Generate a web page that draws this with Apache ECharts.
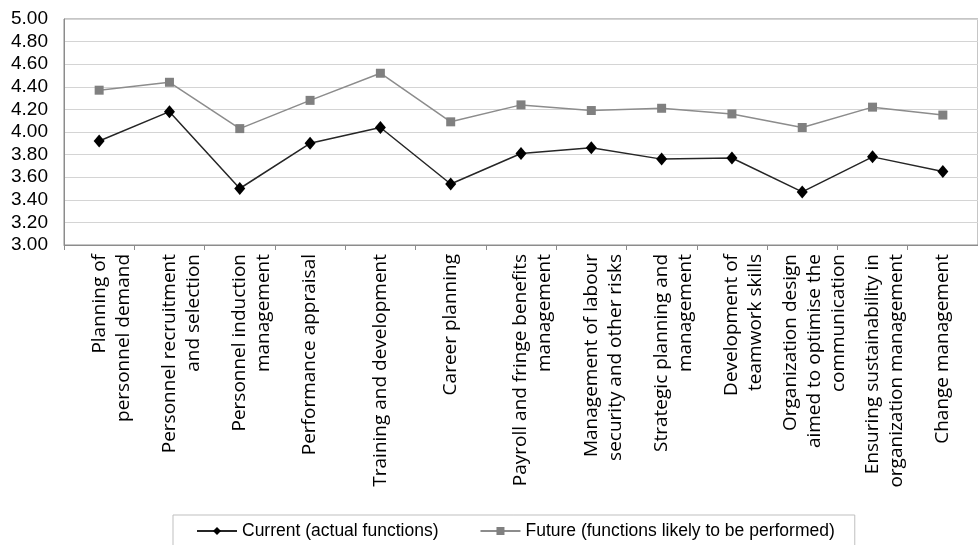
<!DOCTYPE html>
<html>
<head>
<meta charset="utf-8">
<script src="https://cdn.jsdelivr.net/npm/echarts@6/dist/echarts.min.js"></script>
<style>html,body{margin:0;padding:0;background:#fff;}#c{width:978px;height:545px;}</style>
</head>
<body>
<div id="c"></div>
<script>
const categories = [
  "Planning of\npersonnel demand",
  "Personnel recruitment\nand selection",
  "Personnel induction\nmanagement",
  "Performance appraisal",
  "Training and development",
  "Career planning",
  "Payroll and fringe benefits\nmanagement",
  "Management of labour\nsecurity and other risks",
  "Strategic planning and\nmanagement",
  "Development of\nteamwork skills",
  "Organization design\naimed to optimise the\ncommunication",
  "Ensuring sustainability in\norganization management",
  "Change management"
];
const currentValues = [3.92, 4.18, 3.50, 3.90, 4.04, 3.54, 3.81, 3.86, 3.76, 3.77, 3.47, 3.78, 3.65];
const futureValues  = [4.37, 4.44, 4.03, 4.28, 4.52, 4.09, 4.24, 4.19, 4.21, 4.16, 4.04, 4.22, 4.15];
const seriesNames = ["Current (actual functions)", "Future (functions likely to be performed)"];

const chart = echarts.init(document.getElementById('c'), null, {renderer: 'canvas'});
chart.setOption({
  animation: false,
  backgroundColor: '#fff',
  grid: {left: 64, top: 19, width: 923, height: 226, show: true, borderColor: '#8c8c8c', borderWidth: 1, backgroundColor: 'transparent'},
  legend: {
    left: 173, top: 515,
    padding: [7, 20, 9, 23],
    itemGap: 41, itemWidth: 40, itemHeight: 10,
    borderColor: '#bfbfbf', borderWidth: 1,
    textStyle: {fontFamily: 'Liberation Sans', fontSize: 17.5, color: '#000'},
    data: seriesNames
  },
  xAxis: {
    type: 'category',
    data: categories,
    boundaryGap: true,
    axisLine: {lineStyle: {color: '#8c8c8c', width: 1}},
    axisTick: {show: true, length: 5, lineStyle: {color: '#8c8c8c'}},
    axisLabel: {
      interval: 0, rotate: 90, margin: 9,
      fontFamily: 'Open Sans', fontSize: 19, color: '#000', lineHeight: 24,
      formatter: v => v.indexOf('\n') >= 0 ? '{pad| }\n' + v : v,
      rich: {pad: {fontSize: 19, lineHeight: 24}}
    }
  },
  yAxis: {
    type: 'value', min: 3, max: 5, interval: 0.2,
    axisLine: {show: true, lineStyle: {color: '#8c8c8c', width: 1}},
    axisTick: {show: false},
    splitLine: {lineStyle: {color: '#d4d4d4', width: 1}},
    axisLabel: {fontFamily: 'Liberation Sans', fontSize: 19, color: '#000', margin: 16,
      formatter: v => v.toFixed(2)}
  },
  series: [
    {
      name: seriesNames[0], type: 'line', data: currentValues,
      symbol: 'diamond', symbolSize: [11, 13],
      lineStyle: {color: '#262626', width: 1.5},
      itemStyle: {color: '#000'}
    },
    {
      name: seriesNames[1], type: 'line', data: futureValues,
      symbol: 'rect', symbolSize: 9,
      lineStyle: {color: '#8c8c8c', width: 1.5},
      itemStyle: {color: '#808080'}
    }
  ]
});
</script>
</body>
</html>
